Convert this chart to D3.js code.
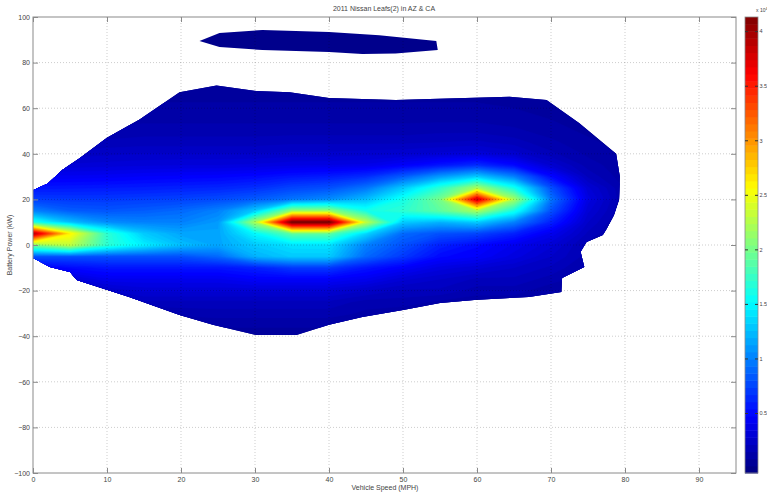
<!DOCTYPE html>
<html>
<head>
<meta charset="utf-8">
<script src="https://cdn.jsdelivr.net/npm/d3@7"></script>
<style>
  body { margin: 0; background: #fff; }
  svg { display: block; font-family: Arial, "Liberation Sans", Helvetica, sans-serif; }
</style>
</head>
<body>
<div id="chart"></div>
<script>
// grid of the density surface (x10^4), sampled every 5 MPH and every 5 kW
const speeds = [0, 5, 10, 15, 20, 25, 30, 35, 40, 45, 50, 55, 60, 65, 70, 75, 80];
const powers = [95, 90, 85, 80, 75, 70, 65, 60, 55, 50, 45, 40, 35, 30, 25, 20, 15, 10, 5, 0, -5, -10, -15, -20, -25, -30, -35, -40, -45];
const density = [
  [0.02,0.02,0.02,0.02,0.02,0.02,0.02,0.02,0.02,0.02,0.02,0.02,0.02,0.02,0.02,0.02,0.02],
  [0.02,0.02,0.02,0.02,0.02,0.02,0.02,0.02,0.02,0.02,0.02,0.02,0.02,0.02,0.02,0.02,0.02],
  [0.02,0.02,0.02,0.02,0.02,0.02,0.02,0.02,0.02,0.02,0.02,0.02,0.02,0.02,0.02,0.02,0.02],
  [0.02,0.02,0.02,0.02,0.02,0.02,0.02,0.02,0.02,0.02,0.02,0.02,0.02,0.02,0.02,0.02,0.02],
  [0.02,0.02,0.02,0.02,0.02,0.02,0.02,0.02,0.02,0.02,0.02,0.02,0.02,0.02,0.02,0.02,0.02],
  [0.04,0.04,0.05,0.05,0.06,0.06,0.06,0.06,0.06,0.06,0.06,0.06,0.06,0.05,0.04,0.03,0.02],
  [0.05,0.06,0.07,0.08,0.08,0.08,0.08,0.08,0.08,0.08,0.08,0.08,0.08,0.07,0.06,0.04,0.03],
  [0.07,0.08,0.09,0.10,0.10,0.10,0.10,0.10,0.10,0.10,0.10,0.10,0.10,0.09,0.07,0.05,0.04],
  [0.09,0.10,0.11,0.12,0.12,0.12,0.12,0.12,0.12,0.12,0.12,0.12,0.12,0.11,0.09,0.06,0.05],
  [0.12,0.13,0.14,0.15,0.15,0.15,0.15,0.15,0.15,0.15,0.15,0.16,0.16,0.14,0.11,0.08,0.06],
  [0.16,0.17,0.18,0.19,0.19,0.19,0.19,0.20,0.20,0.20,0.20,0.21,0.22,0.19,0.14,0.10,0.07],
  [0.20,0.22,0.24,0.25,0.25,0.25,0.25,0.26,0.26,0.27,0.28,0.30,0.32,0.27,0.18,0.12,0.08],
  [0.30,0.30,0.31,0.32,0.33,0.33,0.34,0.36,0.37,0.38,0.45,0.55,0.65,0.50,0.28,0.15,0.10],
  [0.42,0.42,0.43,0.45,0.46,0.47,0.50,0.55,0.58,0.65,0.85,1.10,1.30,1.00,0.50,0.20,0.10],
  [0.55,0.56,0.57,0.58,0.60,0.62,0.66,0.75,0.80,0.95,1.30,1.70,2.20,1.60,0.80,0.30,0.12],
  [0.72,0.70,0.70,0.72,0.74,0.78,0.85,0.95,1.05,1.25,1.60,2.00,3.80,2.20,0.95,0.35,0.12],
  [1.00,0.85,0.82,0.85,0.90,1.00,1.30,2.10,2.10,1.60,1.70,1.90,2.20,1.60,0.80,0.30,0.12],
  [1.60,1.25,1.05,1.00,1.00,1.10,2.20,4.15,4.15,2.30,1.30,1.20,1.30,1.00,0.60,0.25,0.10],
  [3.90,2.60,1.70,1.30,1.15,1.15,1.50,1.90,1.90,1.35,0.90,0.80,0.75,0.60,0.40,0.20,0.10],
  [2.00,2.30,1.70,1.45,1.25,1.15,1.30,1.40,1.40,1.00,0.80,0.60,0.50,0.40,0.30,0.15,0.10],
  [0.80,0.80,0.80,0.80,0.80,0.90,1.20,1.30,1.30,0.90,0.70,0.50,0.45,0.35,0.25,0.15,0.10],
  [0.40,0.50,0.55,0.55,0.55,0.55,0.60,0.70,0.70,0.55,0.45,0.35,0.30,0.25,0.20,0.12,0.10],
  [0.25,0.30,0.40,0.40,0.40,0.40,0.45,0.45,0.45,0.40,0.30,0.25,0.20,0.20,0.15,0.10,0.08],
  [0.15,0.18,0.25,0.30,0.30,0.30,0.30,0.30,0.30,0.25,0.20,0.20,0.15,0.15,0.10,0.08,0.06],
  [0.10,0.12,0.15,0.20,0.20,0.20,0.20,0.20,0.20,0.15,0.15,0.12,0.10,0.10,0.08,0.06,0.05],
  [0.06,0.08,0.10,0.12,0.14,0.15,0.15,0.15,0.15,0.12,0.10,0.08,0.07,0.06,0.05,0.04,0.03],
  [0.04,0.05,0.06,0.08,0.10,0.10,0.10,0.10,0.10,0.08,0.06,0.05,0.04,0.04,0.03,0.03,0.02],
  [0.03,0.03,0.04,0.05,0.06,0.06,0.06,0.06,0.06,0.05,0.04,0.03,0.03,0.03,0.02,0.02,0.02],
  [0.02,0.02,0.02,0.02,0.02,0.02,0.02,0.02,0.02,0.02,0.02,0.02,0.02,0.02,0.02,0.02,0.02]
];

// edge of the area that holds data (main body and the thin strip near 90 kW)
const mainSpeed = [0, 2, 4, 6.3, 10, 14.4, 19.8, 24.8, 30.2, 34.7, 40, 49, 53.6, 64.4, 69.4, 73.8, 78.8, 79.3, 79.2, 78.5, 77.5, 77, 74.8, 74, 74.5, 71.5, 71.4, 67, 60, 55, 50, 44.5, 40, 35.6, 30.2, 24.3, 19.8, 13, 5.9, 5, 2.3, 0];
const mainPower = [24, 27, 33, 38, 47, 55, 67, 70, 67.5, 67, 64.5, 63.6, 64, 65, 63.6, 53.5, 40, 30, 20, 13, 7, 4.4, 1.3, -3, -9.6, -14.5, -20.6, -22.8, -24, -25.4, -28.5, -31.6, -35, -39.5, -39.5, -35, -30.7, -22.8, -15.4, -11.8, -9.6, -5.7];
const stripSpeed = [22.5, 25.2, 31, 40, 46.8, 54.5, 54.7, 49, 44.5, 40, 31, 25.2];
const stripPower = [89.5, 93, 94.3, 93.4, 92, 89.5, 85.5, 84, 83.8, 84.6, 85.5, 86.8];

const xTicks = [0, 10, 20, 30, 40, 50, 60, 70, 80, 90];
const yTicks = [-100, -80, -60, -40, -20, 0, 20, 40, 60, 80, 100];
const cTicks = [0.5, 1, 1.5, 2, 2.5, 3, 3.5, 4];
const cRange = [-0.05, 4.13];

const W = 767, H = 494;
const plot = { left: 33, right: 736, top: 17, bottom: 473 };

const svg = d3.select('#chart').append('svg')
  .attr('width', W).attr('height', H);

const x = d3.scaleLinear().domain([0, 95]).range([plot.left, plot.right]);
const y = d3.scaleLinear().domain([-100, 100]).range([plot.bottom, plot.top]);

// MATLAB jet colormap
function jet(v) {
  const t = Math.max(0, Math.min(1, (v - cRange[0]) / (cRange[1] - cRange[0])));
  const c = k => Math.round(255 * Math.max(0, Math.min(1, 1.5 - Math.abs(4 * t - k))));
  return `rgb(${c(3)},${c(2)},${c(1)})`;
}

// clip to the data area
const area = d3.line().x(d => x(d[0])).y(d => y(d[1]));
const defs = svg.append('defs');
const clip = defs.append('clipPath').attr('id', 'dataArea');
clip.append('path').attr('d', area(d3.zip(mainSpeed, mainPower)) + 'Z');
clip.append('path').attr('d', area(d3.zip(stripSpeed, stripPower)) + 'Z');

const surf = svg.append('g').attr('clip-path', 'url(#dataArea)');

surf.append('rect')
  .attr('x', plot.left).attr('y', plot.top)
  .attr('width', plot.right - plot.left).attr('height', plot.bottom - plot.top)
  .attr('fill', jet(0));

// filled contours, fine enough to look like interpolated shading
const nx = speeds.length, ny = powers.length;
const values = density.flat();
const step = 0.04;
const levels = d3.range(0.05, 4.15, step);
const dS = speeds[1] - speeds[0], dP = powers[0] - powers[1];
const proj = d3.geoTransform({
  point: function(gx, gy) {
    this.stream.point(x(speeds[0] + (gx - 0.5) * dS), y(powers[0] - (gy - 0.5) * dP));
  }
});
const gridPath = d3.geoPath(proj);

surf.selectAll('path.band')
  .data(d3.contours().size([nx, ny]).thresholds(levels)(values))
  .join('path')
  .attr('class', 'band')
  .attr('d', gridPath)
  .attr('fill', d => jet(d.value + step / 2))
  .attr('stroke', d => jet(d.value + step / 2))
  .attr('stroke-width', 0.4);

// grid lines (dotted, on top of the surface like MATLAB)
const grid = svg.append('g');
grid.selectAll('line.gx')
  .data(xTicks.slice(1))
  .join('line')
  .attr('x1', d => x(d)).attr('x2', d => x(d))
  .attr('y1', plot.top).attr('y2', plot.bottom)
  .attr('stroke', 'rgba(0,0,0,0.2)').attr('stroke-dasharray', '1,2');
grid.selectAll('line.gy')
  .data(yTicks.slice(1, -1))
  .join('line')
  .attr('x1', plot.left).attr('x2', plot.right)
  .attr('y1', d => y(d)).attr('y2', d => y(d))
  .attr('stroke', 'rgba(0,0,0,0.2)').attr('stroke-dasharray', '1,2');

// axes box with inward ticks
const axisColor = '#8a8a8a';
svg.append('rect')
  .attr('x', plot.left).attr('y', plot.top)
  .attr('width', plot.right - plot.left).attr('height', plot.bottom - plot.top)
  .attr('fill', 'none').attr('stroke', axisColor).attr('stroke-width', 1);

const xAxis = svg.append('g')
  .attr('transform', `translate(0,${plot.bottom})`)
  .call(d3.axisBottom(x).tickValues(xTicks).tickSizeInner(-5).tickSizeOuter(0).tickPadding(4));
const xAxisTop = svg.append('g')
  .attr('transform', `translate(0,${plot.top})`)
  .call(d3.axisTop(x).tickValues(xTicks).tickSizeInner(-5).tickSizeOuter(0).tickFormat(''));
const yAxis = svg.append('g')
  .attr('transform', `translate(${plot.left},0)`)
  .call(d3.axisLeft(y).tickValues(yTicks).tickSizeInner(-5).tickSizeOuter(0).tickPadding(3));
const yAxisRight = svg.append('g')
  .attr('transform', `translate(${plot.right},0)`)
  .call(d3.axisRight(y).tickValues(yTicks).tickSizeInner(-5).tickSizeOuter(0).tickFormat(''));

[xAxis, xAxisTop, yAxis, yAxisRight].forEach(g => {
  g.select('.domain').remove();
  g.selectAll('line').attr('stroke', axisColor);
  g.selectAll('text').attr('fill', '#444').style('font-size', '7px');
});

// titles
svg.append('text')
  .attr('x', 384).attr('y', 11)
  .attr('text-anchor', 'middle')
  .attr('fill', '#444').style('font-size', '7px')
  .text('2011 Nissan Leafs(2) in AZ & CA');
svg.append('text')
  .attr('x', 385).attr('y', 490)
  .attr('text-anchor', 'middle')
  .attr('fill', '#444').style('font-size', '7px')
  .text('Vehicle Speed (MPH)');
svg.append('text')
  .attr('transform', `translate(12,${y(0)}) rotate(-90)`)
  .attr('text-anchor', 'middle')
  .attr('fill', '#444').style('font-size', '7px')
  .text('Battery Power (kW)');

// colorbar
const cb = { left: 745, width: 13 };
const cy = d3.scaleLinear().domain(cRange).range([plot.bottom, plot.top]);
const cSteps = d3.range(64);
const cStep = (cRange[1] - cRange[0]) / 64;
svg.append('g').selectAll('rect')
  .data(cSteps)
  .join('rect')
  .attr('x', cb.left)
  .attr('y', i => cy(cRange[0] + (i + 1) * cStep))
  .attr('width', cb.width)
  .attr('height', i => cy(cRange[0] + i * cStep) - cy(cRange[0] + (i + 1) * cStep) + 0.5)
  .attr('fill', i => jet(cRange[0] + (i + 0.5) * cStep));
svg.append('rect')
  .attr('x', cb.left).attr('y', plot.top)
  .attr('width', cb.width).attr('height', plot.bottom - plot.top)
  .attr('fill', 'none').attr('stroke', axisColor).attr('stroke-width', 0.8);

const cAxis = svg.append('g')
  .attr('transform', `translate(${cb.left + cb.width},0)`)
  .call(d3.axisRight(cy).tickValues(cTicks).tickFormat(d3.format('~g'))
    .tickSizeInner(-3).tickSizeOuter(0).tickPadding(1.5));
cAxis.select('.domain').remove();
cAxis.selectAll('line').attr('stroke', '#333');
cAxis.selectAll('text').attr('fill', '#444').style('font-size', '5.5px');
const cAxisL = svg.append('g')
  .attr('transform', `translate(${cb.left},0)`)
  .call(d3.axisLeft(cy).tickValues(cTicks).tickSizeInner(-3).tickSizeOuter(0).tickFormat(''));
cAxisL.select('.domain').remove();
cAxisL.selectAll('line').attr('stroke', '#333');

const expo = svg.append('text')
  .attr('x', 756).attr('y', 12)
  .attr('fill', '#444').style('font-size', '5px')
  .text('x 10');
expo.append('tspan').attr('dy', -2).style('font-size', '4px').text('4');
</script>
</body>
</html>
